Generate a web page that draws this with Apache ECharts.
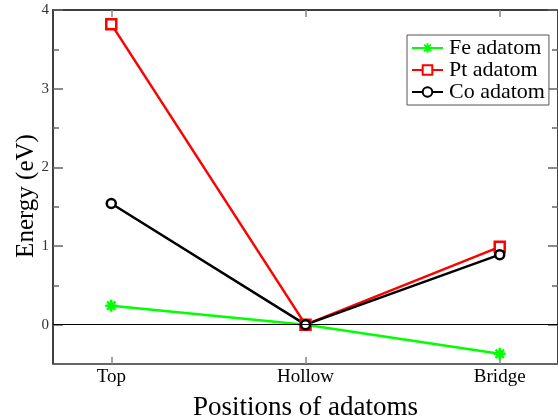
<!DOCTYPE html>
<html><head><meta charset="utf-8">
<script src="https://cdn.jsdelivr.net/npm/echarts@6/dist/echarts.min.js"></script>
<style>html,body{margin:0;padding:0;background:#fff}#c{width:558px;height:419px}</style>
</head><body><div id="c"></div>
<script>
const categories = ['Top', 'Hollow', 'Bridge'];
const feValues = [0.24, 0.0, -0.37];
const ptValues = [3.82, 0.0, 0.99];
const coValues = [1.54, 0.0, 0.89];
const yMajorTicks = [0, 1, 2, 3, 4];
const yMinorTicks = [-0.5, 0.5, 1.5, 2.5, 3.5];
const xTicks = [1, 2, 3];

const toPts = vals => vals.map((v, i) => [i + 1, v]);
const serif = 'Liberation Serif, Times New Roman, serif';
const starPath = 'path://M0,5L10,5M5,0L5,10M1.5,1.5L8.5,8.5M8.5,1.5L1.5,8.5';

const chart = echarts.init(document.getElementById('c'), null, {renderer: 'canvas'});
const yBase = (pos, custom, len, labels, line) => ({
  type: 'value', position: pos, min: -0.5, max: 4, offset: 0,
  axisLine: {show: line, onZero: false, lineStyle: {color: '#000', width: 1.5}},
  axisTick: {show: true, inside: true, length: len, customValues: custom, lineStyle: {color: '#666', width: 1.5}},
  axisLabel: labels ? {show: true, customValues: yMajorTicks, fontFamily: serif, fontSize: 15, color: '#333', margin: 4} : {show: false},
  splitLine: {show: false}
});
chart.setOption({
  animation: false,
  grid: {left: 53, top: 10, right: 0, bottom: 55, containLabel: false, outerBoundsMode: 'none'},
  xAxis: [
    {type: 'value', position: 'bottom', min: 0.7, max: 3.3,
     name: 'Positions of adatoms', nameLocation: 'middle', nameGap: 30, nameMoveOverlap: false,
     nameTextStyle: {fontFamily: serif, fontSize: 27, color: '#000'},
     axisLine: {onZero: false, lineStyle: {color: '#333', width: 1.5}},
     axisTick: {inside: true, length: 7, customValues: xTicks, lineStyle: {color: '#888', width: 1.5}},
     axisLabel: {customValues: xTicks, formatter: v => categories[Math.round(v) - 1] || '', fontFamily: serif, fontSize: 19, color: '#000', margin: 4},
     splitLine: {show: false}},
    {type: 'value', position: 'top', min: 0.7, max: 3.3,
     axisLine: {onZero: false, lineStyle: {color: '#000', width: 1.5}},
     axisTick: {inside: true, length: 7, customValues: xTicks, lineStyle: {color: '#888', width: 1.5}},
     axisLabel: {show: false}, splitLine: {show: false}}
  ],
  yAxis: [
    Object.assign(yBase('left', yMajorTicks, 10, true, true), {
      name: 'Energy (eV)', nameLocation: 'middle', nameGap: 14, nameRotate: 90, nameMoveOverlap: false,
      nameTextStyle: {fontFamily: serif, fontSize: 25, color: '#000', padding: [0, 18, 0, 0]}}),
    yBase('left', yMinorTicks, 6, false, false),
    yBase('right', yMajorTicks, 10, false, true),
    yBase('right', yMinorTicks, 6, false, false)
  ],
  legend: {
    orient: 'vertical', left: 407, top: 35, padding: [2, 4, 2, 4], itemGap: 0,
    itemWidth: 31, itemHeight: 12, borderColor: '#555', borderWidth: 1, borderRadius: 0,
    backgroundColor: '#fff',
    textStyle: {fontFamily: serif, fontSize: 22, lineHeight: 21, color: '#000', padding: [0, 0, 0, 1]},
    data: ['Fe adatom', 'Pt adatom', 'Co adatom']
  },
  series: [
    {name: 'Fe adatom', type: 'line', data: toPts(feValues),
     symbol: starPath, symbolSize: 12, showAllSymbol: true,
     lineStyle: {color: '#00ff00', width: 2.5}, color: '#00ff00',
     itemStyle: {color: 'none', borderColor: '#00ff00', borderWidth: 2.5},
     markLine: {silent: true, symbol: 'none', label: {show: false},
       lineStyle: {color: '#000', width: 1, type: 'solid'}, data: [{yAxis: 0}]}},
    {name: 'Pt adatom', type: 'line', data: toPts(ptValues),
     symbol: 'rect', symbolSize: 10, color: '#ff0000',
     lineStyle: {color: '#ff0000', width: 2.5},
     itemStyle: {color: '#fff', borderColor: '#ff0000', borderWidth: 2.5}},
    {name: 'Co adatom', type: 'line', data: toPts(coValues),
     symbol: 'circle', symbolSize: 9, color: '#000',
     lineStyle: {color: '#000', width: 2.5},
     itemStyle: {color: '#fff', borderColor: '#000', borderWidth: 2.5}}
  ]
});
</script></body></html>
